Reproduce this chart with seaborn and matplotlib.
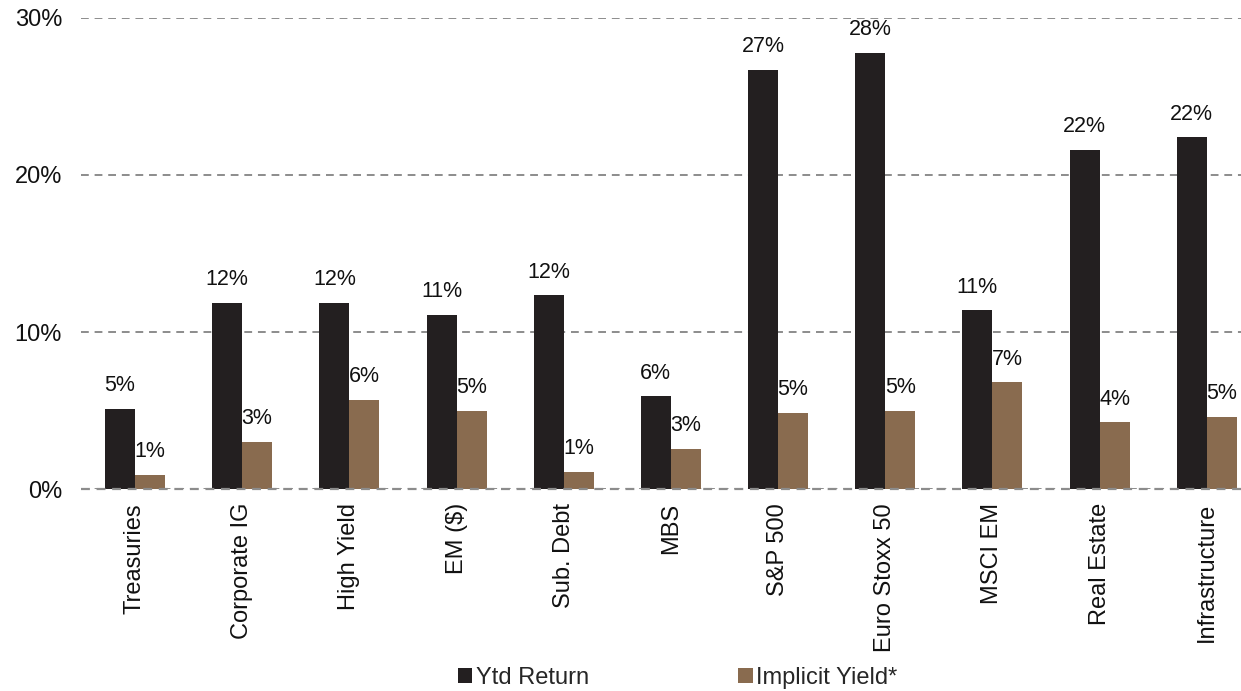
import pandas as pd
import numpy as np
import matplotlib.pyplot as plt
import seaborn as sns

# values (percent)
categories = ['Treasuries', 'Corporate IG', 'High Yield', 'EM ($)', 'Sub. Debt', 'MBS',
              'S&P 500', 'Euro Stoxx 50', 'MSCI EM', 'Real Estate', 'Infrastructure']
ytd_return = [5.1, 11.85, 11.85, 11.1, 12.35, 5.9, 26.7, 27.8, 11.4, 21.6, 22.4]
implicit_yield = [0.9, 3.0, 5.7, 5.0, 1.1, 2.55, 4.85, 5.0, 6.8, 4.25, 4.6]
series_names = ['Ytd Return', 'Implicit Yield*']
y_ticks = [0, 10, 20, 30]

df = pd.DataFrame({
    'category': categories * 2,
    'value': ytd_return + implicit_yield,
    'series': [series_names[0]] * len(categories) + [series_names[1]] * len(categories),
})

sns.set_style('white')
plt.rcParams['font.family'] = ['Liberation Sans', 'DejaVu Sans']

fig = plt.figure(figsize=(12.41, 6.91), dpi=100)
ax = fig.add_axes([0.0656, 0.2923, 0.9344, 0.6817])

palette = {'Ytd Return': '#231f20', 'Implicit Yield*': '#896b4f'}
sns.barplot(data=df, x='category', y='value', hue='series', palette=palette,
            width=0.56, saturation=1, linewidth=0, ax=ax,
            order=categories, hue_order=series_names)

for cont in ax.containers:
    ax.bar_label(cont, labels=[f'{v:.0f}%' for v in cont.datavalues],
                 padding=9, fontsize=15.5, color='#111111')

ax.set_xlim(-0.5, 10.32)
ax.set_ylim(0, 30)
ax.set_yticks(y_ticks)
ax.set_yticklabels([f'{t}%' for t in y_ticks])
ax.set_xlabel('')
ax.set_ylabel('')
ax.tick_params(axis='y', length=0, pad=14, labelsize=17, labelcolor='#111111')
ax.tick_params(axis='x', length=0, pad=10, labelsize=17, labelcolor='#111111', rotation=90)
for s in ax.spines.values():
    s.set_visible(False)

ax.set_axisbelow(True)
ax.yaxis.grid(True, linestyle=(0, (4, 3)), color='#8c8c8c', linewidth=1.4)
ax.axhline(0, linestyle=(0, (4, 3)), color='#8c8c8c', linewidth=1.6, zorder=5, clip_on=False)

handles, labels = ax.get_legend_handles_labels()
ax.legend_.remove()
fig.legend(handles, labels, loc='center', bbox_to_anchor=(0.546, 0.019), ncol=2,
           frameon=False, fontsize=17, handlelength=0.62, handleheight=0.62,
           handletextpad=0.15, columnspacing=6.3, borderpad=0)

fig.savefig('out.png', dpi=100)
